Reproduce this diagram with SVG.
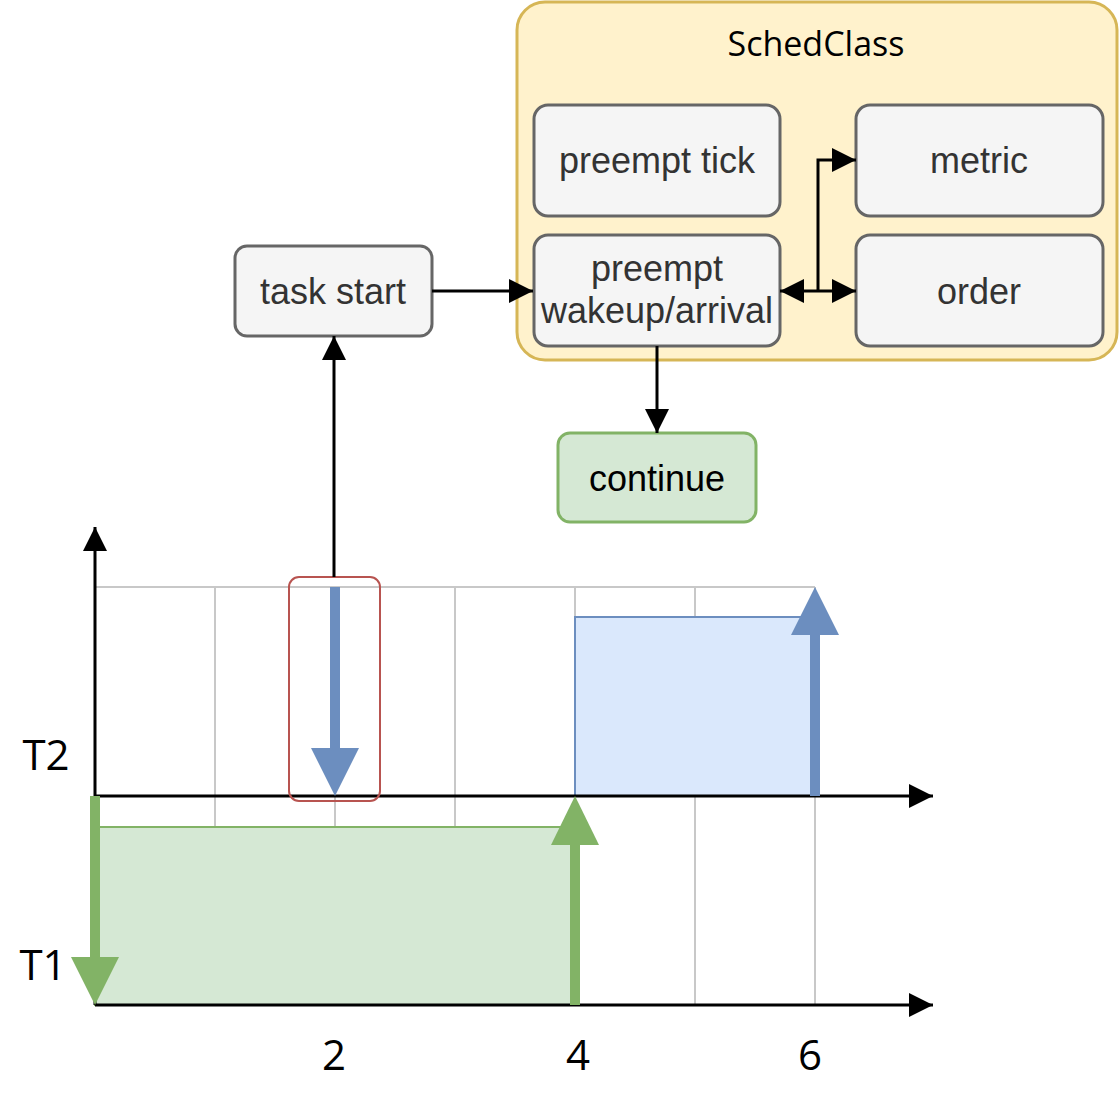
<svg xmlns="http://www.w3.org/2000/svg" width="1119" height="1098" viewBox="0 0 1119 1098">
<style>
.box{fill:#f5f5f5;stroke:#666666;stroke-width:3}
.bt{font-family:"Liberation Sans",Arial,sans-serif;font-size:36px;fill:#333333;text-anchor:middle}
.ot{font-family:"Open Sans","Noto Sans",sans-serif;fill:#000;text-anchor:middle}
.grid{stroke:#c8c8c8;stroke-width:2;fill:none}
.conn{stroke:#000;stroke-width:3;fill:none}
</style>
<defs>
<marker id="ah" viewBox="0 0 24 24" refX="24" refY="12" markerWidth="24" markerHeight="24" markerUnits="userSpaceOnUse" orient="auto-start-reverse">
<path d="M0,0 L24,12 L0,24 z" fill="#000"/>
</marker>
</defs>

<g id="schedclass">
<rect x="517" y="2" width="600" height="358" rx="28" fill="#fff2cc" stroke="#d6b656" stroke-width="3"/>
<text class="ot" x="816" y="56" font-size="34">SchedClass</text>
</g>
<g id="preempt-tick">
<rect class="box" x="534" y="105" width="246" height="111" rx="14"/>
<text class="bt" x="657" y="173">preempt tick</text>
</g>
<g id="metric">
<rect class="box" x="856" y="105" width="247" height="111" rx="14"/>
<text class="bt" x="979" y="173">metric</text>
</g>
<g id="preempt-wakeup">
<rect class="box" x="534" y="235" width="246" height="111" rx="14"/>
<text class="bt" x="657" y="281">preempt</text>
<text class="bt" x="657" y="323">wakeup/arrival</text>
</g>
<g id="order">
<rect class="box" x="856" y="235" width="247" height="111" rx="14"/>
<text class="bt" x="979" y="304">order</text>
</g>
<g id="task-start">
<rect class="box" x="235" y="246" width="197" height="90" rx="12"/>
<text class="bt" x="333" y="304">task start</text>
</g>
<g id="continue">
<rect x="558" y="433" width="198" height="89" rx="12" fill="#d5e8d4" stroke="#82b366" stroke-width="3"/>
<text class="bt" x="657" y="491" style="fill:#000">continue</text>
</g>

<g id="chart">
<path class="grid" d="M95,587 H815 M215,587 V1005 M335,587 V1005 M455,587 V1005 M575,587 V1005 M695,587 V1005 M815,587 V1005"/>
<rect x="575" y="617" width="240" height="179" fill="#dae8fc" stroke="#6c8ebf" stroke-width="2"/>
<rect x="95" y="827" width="480" height="178" fill="#d5e8d4" stroke="#82b366" stroke-width="2"/>
<line x1="95" y1="1005" x2="95" y2="527" class="conn" marker-end="url(#ah)"/>
<line x1="95" y1="796" x2="933" y2="796" class="conn" marker-end="url(#ah)"/>
<line x1="95" y1="1005" x2="933" y2="1005" class="conn" marker-end="url(#ah)"/>
<rect x="289" y="577" width="91" height="224" rx="10" fill="none" stroke="#b85450" stroke-width="2"/>
<line x1="335" y1="587" x2="335" y2="750" stroke="#6c8ebf" stroke-width="10"/>
<polygon points="311,748 359,748 335,796" fill="#6c8ebf"/>
<line x1="815" y1="796" x2="815" y2="633" stroke="#6c8ebf" stroke-width="10"/>
<polygon points="791,635 839,635 815,587" fill="#6c8ebf"/>
<line x1="95" y1="796" x2="95" y2="959" stroke="#82b366" stroke-width="10"/>
<polygon points="71,957 119,957 95,1005" fill="#82b366"/>
<line x1="575" y1="1005" x2="575" y2="843" stroke="#82b366" stroke-width="10"/>
<polygon points="551,845 599,845 575,796" fill="#82b366"/>
<text class="ot" x="46" y="770" font-size="42">T2</text>
<text class="ot" x="43" y="980" font-size="42">T1</text>
<text class="ot" x="334" y="1070" font-size="42">2</text>
<text class="ot" x="578" y="1070" font-size="42">4</text>
<text class="ot" x="810" y="1070" font-size="42">6</text>
</g>

<g id="connectors">
<line x1="334" y1="577" x2="334" y2="336" class="conn" marker-end="url(#ah)"/>
<line x1="432" y1="291" x2="533" y2="291" class="conn" marker-end="url(#ah)"/>
<line x1="657" y1="346" x2="657" y2="433" class="conn" marker-end="url(#ah)"/>
<path d="M780,291 H856" class="conn" marker-start="url(#ah)" marker-end="url(#ah)"/>
<path d="M818,291 V160 H856" class="conn" marker-end="url(#ah)"/>
</g>
</svg>
